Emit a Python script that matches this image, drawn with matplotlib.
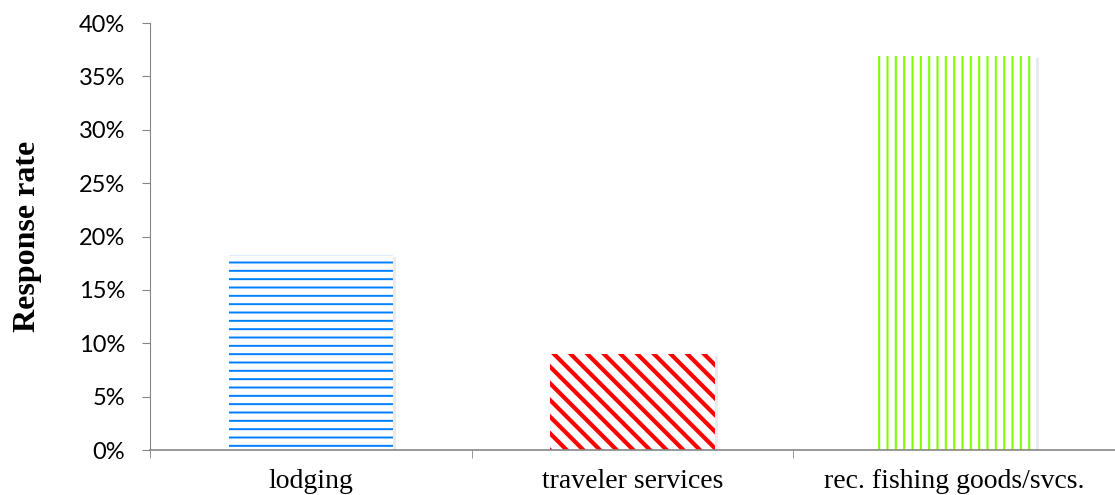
import matplotlib
matplotlib.use("Agg")
import matplotlib.pyplot as plt
import matplotlib.transforms as mtransforms
from matplotlib.ticker import PercentFormatter

categories = ["lodging", "traveler services", "rec. fishing goods/svcs."]
rates = [18.3, 9.0, 36.9]
colors = ["#0080ff", "#ff0000", "#80ff00"]
hatches = ["--", "\\\\", "||"]
hatch_widths = [1.4, 3.0, 1.5]

fig = plt.figure(figsize=(11.15, 4.95), dpi=100)
ax = fig.add_axes([0.1345, 0.0909, 0.8655, 0.8626])

# soft drop shadow like the office chart
shift = mtransforms.ScaledTranslation(3 / 100, -2 / 100, fig.dpi_scale_trans)
for i, r in enumerate(rates):
    sh = ax.bar(i, r, width=0.51, color="black", alpha=0.08, linewidth=0)
    for p in sh:
        p.set_transform(ax.transData + shift)

x = range(len(categories))
for i, (r, c, h, hw) in enumerate(zip(rates, colors, hatches, hatch_widths)):
    b = ax.bar(i, r, width=0.51, color="white", edgecolor=c, hatch=h, linewidth=0)
    for p in b:
        p.set_hatch_linewidth(hw)

ax.set_xlim(-0.5, 2.5)
ax.set_ylim(0, 40)
ax.set_yticks(range(0, 41, 5))
ax.yaxis.set_major_formatter(PercentFormatter(decimals=0))
ax.set_xticks(list(x))
ax.set_xticklabels(categories, fontfamily="Liberation Serif", fontsize=20)
ax.set_xticks([-0.5, 0.5, 1.5, 2.5], minor=True)
ax.tick_params(axis="x", which="major", length=0, pad=14)
ax.tick_params(axis="x", which="minor", length=6, color="#868686", direction="out")
ax.tick_params(axis="y", length=6, color="#868686", labelsize=17, pad=12)
for lab in ax.get_yticklabels():
    lab.set_fontfamily("Lato")

ax.set_ylabel("Response rate", fontfamily="Liberation Serif", fontweight="bold",
              fontsize=23, labelpad=26)

for s in ["top", "right"]:
    ax.spines[s].set_visible(False)
ax.spines["left"].set_color("#868686")
ax.spines["bottom"].set_color("#868686")
ax.spines["bottom"].set_linewidth(1.2)
ax.spines["bottom"].set_zorder(5)

fig.savefig("out.png", dpi=100)
